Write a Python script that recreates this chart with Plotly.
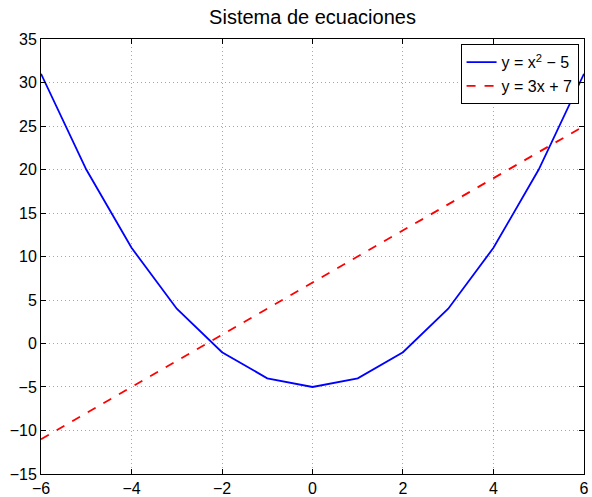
import plotly.graph_objects as go

x_vals = [-6, -5, -4, -3, -2, -1, 0, 1, 2, 3, 4, 5, 6]
y_parab = [31, 20, 11, 4, -1, -4, -5, -4, -1, 4, 11, 20, 31]
y_line = [-11, -8, -5, -2, 1, 4, 7, 10, 13, 16, 19, 22, 25]
x_ticks = [-6, -4, -2, 0, 2, 4, 6]
y_ticks = [-15, -10, -5, 0, 5, 10, 15, 20, 25, 30, 35]

fig = go.Figure()
fig.add_trace(go.Scatter(x=x_vals, y=y_parab, mode="lines",
                         line=dict(color="#0000ff", width=1.8),
                         name="y = x<sup>2</sup> − 5"))
fig.add_trace(go.Scatter(x=x_vals, y=y_line, mode="lines",
                         line=dict(color="#ff0000", width=1.8, dash="dash"),
                         name="y = 3x + 7"))

axis_common = dict(
    showgrid=True, gridcolor="#a8a8a8", griddash="1px,3px", gridwidth=1,
    zeroline=False, showline=True, linecolor="black", linewidth=1,
    mirror="ticks", ticks="inside", ticklen=5, tickcolor="black",
    tickfont=dict(size=16, color="black"), automargin=False,
    ticklabeloverflow="allow",
)
fig.update_xaxes(range=[-6.0005, 6.0005], tickvals=x_ticks, **axis_common)
fig.update_yaxes(range=[-15.002, 35.002], tickvals=y_ticks, **axis_common)

fig.update_layout(
    width=592, height=497,
    margin=dict(l=41, r=8, t=39, b=23),
    paper_bgcolor="white", plot_bgcolor="white",
    font=dict(family="Liberation Sans, Arial, sans-serif", color="black", size=16),
    title=dict(text="Sistema de ecuaciones", xref="paper", x=0.5, xanchor="center",
               yref="container", y=0.965, yanchor="middle", font=dict(size=20)),
    legend=dict(x=0.99, y=0.988, xanchor="right", yanchor="top",
                bgcolor="white", bordercolor="black", borderwidth=1,
                font=dict(size=16), tracegroupgap=0, itemwidth=30),
    showlegend=True,
)

fig.write_html("out.html", config={"displayModeBar": False},
               post_script="document.body.style.margin='0';document.body.style.padding='0';")
